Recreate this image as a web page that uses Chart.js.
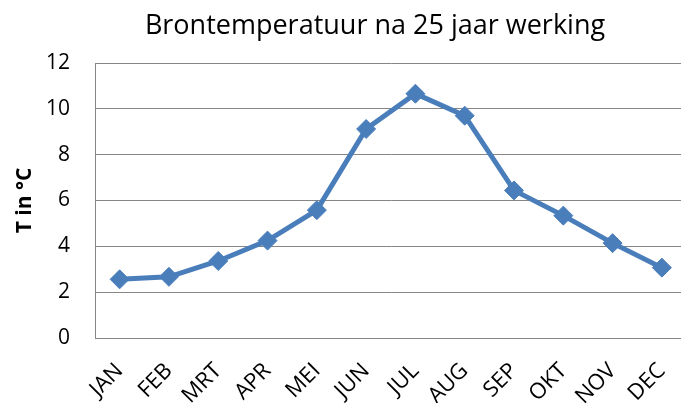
<!DOCTYPE html>
<html><head><meta charset="utf-8">
<script src="https://cdn.jsdelivr.net/npm/chart.js@4/dist/chart.umd.min.js"></script>
<style>
html,body{margin:0;padding:0;background:#fff;overflow:hidden;width:681px;height:403px;}
#wrap{width:701px;height:403px;position:absolute;left:0;top:0;}
</style></head><body>
<div id="wrap"><canvas id="c" width="701" height="403"></canvas></div>
<script>
const months = ['JAN','FEB','MRT','APR','MEI','JUN','JUL','AUG','SEP','OKT','NOV','DEC'];
const temps = [2.56, 2.67, 3.36, 4.25, 5.58, 9.12, 10.66, 9.70, 6.44, 5.34, 4.14, 3.07];
const titleText = 'Brontemperatuur na 25 jaar werking';
const yTitle = 'T in °C';
const yTicks = [0, 2, 4, 6, 8, 10, 12];

const FONT = '"Open Sans", "Liberation Sans", sans-serif';

const titlePlugin = {
  id: 'customTitle',
  afterDraw(chart) {
    const ctx = chart.ctx;
    ctx.save();
    ctx.font = '27px ' + FONT;
    ctx.fillStyle = '#000';
    ctx.textAlign = 'center';
    ctx.textBaseline = 'middle';
    ctx.fillText(titleText, 375, 26);
    ctx.restore();
  }
};

new Chart(document.getElementById('c'), {
  type: 'line',
  data: {
    labels: months,
    datasets: [{
      data: temps,
      borderColor: '#4a7ebb',
      backgroundColor: '#4a7ebb',
      borderWidth: 5,
      pointStyle: 'rectRot',
      pointRadius: 9.5,
      pointHoverRadius: 9.5,
      pointBorderWidth: 1,
      tension: 0,
      fill: false
    }]
  },
  options: {
    responsive: false,
    animation: false,
    events: [],
    layout: { padding: { top: 63, left: 0, right: 0, bottom: 0 } },
    plugins: { legend: { display: false }, tooltip: { enabled: false }, title: { display: false } },
    scales: {
      x: {
        offset: true,
        grid: { display: false, drawTicks: false },
        border: { display: true, color: '#868686', width: 1 },
        ticks: {
          minRotation: 45, maxRotation: 45, padding: 20,
          font: { family: FONT, size: 22 }, color: '#000'
        },
        afterFit(scale) { scale.height = 65; }
      },
      y: {
        min: 0, max: 12,
        afterBuildTicks(scale) { scale.ticks = yTicks.map(v => ({ value: v })); },
        grid: { color: '#868686', lineWidth: 1, drawTicks: false },
        border: { display: true, color: '#868686', width: 1 },
        ticks: { padding: 25, font: { family: FONT, size: 21 }, color: '#000' },
        title: { display: true, text: yTitle, font: { family: FONT, size: 21, weight: 'bold' }, color: '#000', padding: { top: 12, bottom: 0 } },
        afterFit(scale) { scale.width = 95; }
      }
    }
  },
  plugins: [titlePlugin]
});
</script>
</body></html>
